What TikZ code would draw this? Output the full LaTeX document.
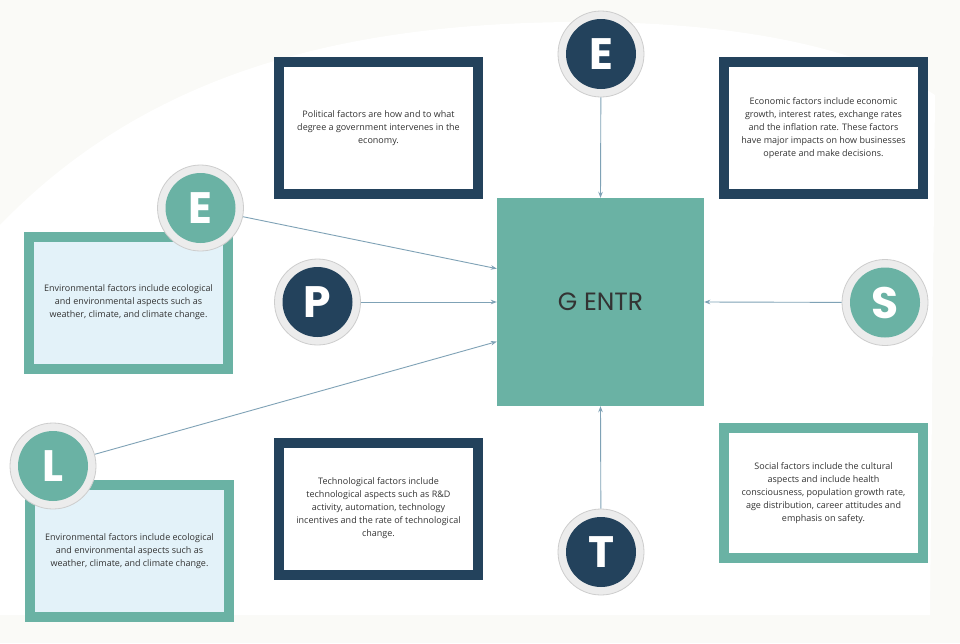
\documentclass[tikz,border=0pt]{standalone}
\usepackage{fontspec}
\setmainfont{Open Sans}
\newfontfamily\letterfont{Poppins}
\usetikzlibrary{arrows.meta,calc}
\definecolor{navy}{HTML}{23425C}
\definecolor{tealc}{HTML}{6AB2A4}
\definecolor{lightblue}{HTML}{E3F2F9}
\definecolor{ringfill}{HTML}{ECECEC}
\definecolor{ringdraw}{HTML}{CDCDCD}
\definecolor{connc}{HTML}{7FA2B6}
\definecolor{txt}{HTML}{333333}
\definecolor{bgc}{HTML}{FAFAF7}
\begin{document}
\begin{tikzpicture}[x=1pt,y=-1pt,
  infobox/.style={draw, line width=10pt, minimum width=199pt, minimum height=132pt, inner sep=0pt, align=center, font=\fontsize{9}{13}\selectfont, text=txt},
  navybox/.style={infobox, draw=navy, fill=white},
  tealbox/.style={infobox, draw=tealc, fill=lightblue},
  socialbox/.style={infobox, draw=tealc, fill=white},
  ring/.style={circle, fill=ringfill, draw=ringdraw, line width=0.8pt, minimum size=86pt, inner sep=0pt},
  disc/.style={circle, minimum size=70pt, inner sep=0pt, text=white, font=\letterfont\bfseries\fontsize{44}{44}\selectfont},
  conn/.style={draw=connc, line width=0.9pt, -{Stealth[length=6pt,width=4.5pt]}},
]
\useasboundingbox (0,0) rectangle (960,643);
\fill[bgc] (0,0) rectangle (960,643);
\fill[white] (0,225) .. controls (150,70) and (350,20) .. (600,22) .. controls (780,25) and (880,60) .. (935,95) -- (930,615) -- (0,615) -- cycle;

% central square
\node[fill=tealc, minimum width=207pt, minimum height=208pt, inner sep=0pt, text=txt, font=\letterfont\fontsize{25}{25}\selectfont] (sq) at (600.5,302) {G ENTR};

% info boxes
\node[navybox] (pol) at (378.5,128) {Political factors are how and to what\\degree a government intervenes in the\\economy.};
\node[navybox] (eco) at (823.5,128) {Economic factors include economic\\growth, interest rates, exchange rates\\and the inflation rate. These factors\\have major impacts on how businesses\\operate and make decisions.};
\node[tealbox] (env1) at (128.5,302.5) {Environmental factors include ecological\\and environmental aspects such as\\weather, climate, and climate change.};
\node[tealbox] (env2) at (129.5,551) {Environmental factors include ecological\\and environmental aspects such as\\weather, climate, and climate change.};
\node[navybox] (tec) at (378.5,508.5) {Technological factors include\\technological aspects such as R\&D\\activity, automation, technology\\incentives and the rate of technological\\change.};
\node[socialbox, minimum height=130pt] (soc) at (823.5,493) {Social factors include the cultural\\aspects and include health\\consciousness, population growth rate,\\age distribution, career attitudes and\\emphasis on safety.};

% circles
\node[ring] (ceco) at (601,54) {};
\node[disc, fill=navy] (ceco-i) at (ceco) {E};
\node[ring] (cenv) at (200.5,208) {};
\node[disc, fill=tealc] (cenv-i) at (cenv) {E};
\node[ring] (cpol) at (317.5,302) {};
\node[disc, fill=navy] (cpol-i) at (cpol) {P};
\node[ring] (csoc) at (885,302.5) {};
\node[disc, fill=tealc] (csoc-i) at (csoc) {S};
\node[ring] (cleg) at (53,466) {};
\node[disc, fill=tealc] (cleg-i) at (cleg) {L};
\node[ring] (ctec) at (601,552) {};
\node[disc, fill=navy] (ctec-i) at (ctec) {T};

% connector end points on the square
\coordinate (a-env) at ($(sq.north west)!0.34!(sq.south west)$);
\coordinate (a-leg) at ($(sq.north west)!0.69!(sq.south west)$);

% connectors
\draw[conn] (ceco) -- (sq.north);
\draw[conn] (ctec) -- (sq.south);
\draw[conn] (csoc) -- (sq.east);
\draw[conn] (cpol) -- (sq.west);
\draw[conn] (cenv) -- (a-env);
\draw[conn] (cleg) -- (a-leg);
\end{tikzpicture}
\end{document}
